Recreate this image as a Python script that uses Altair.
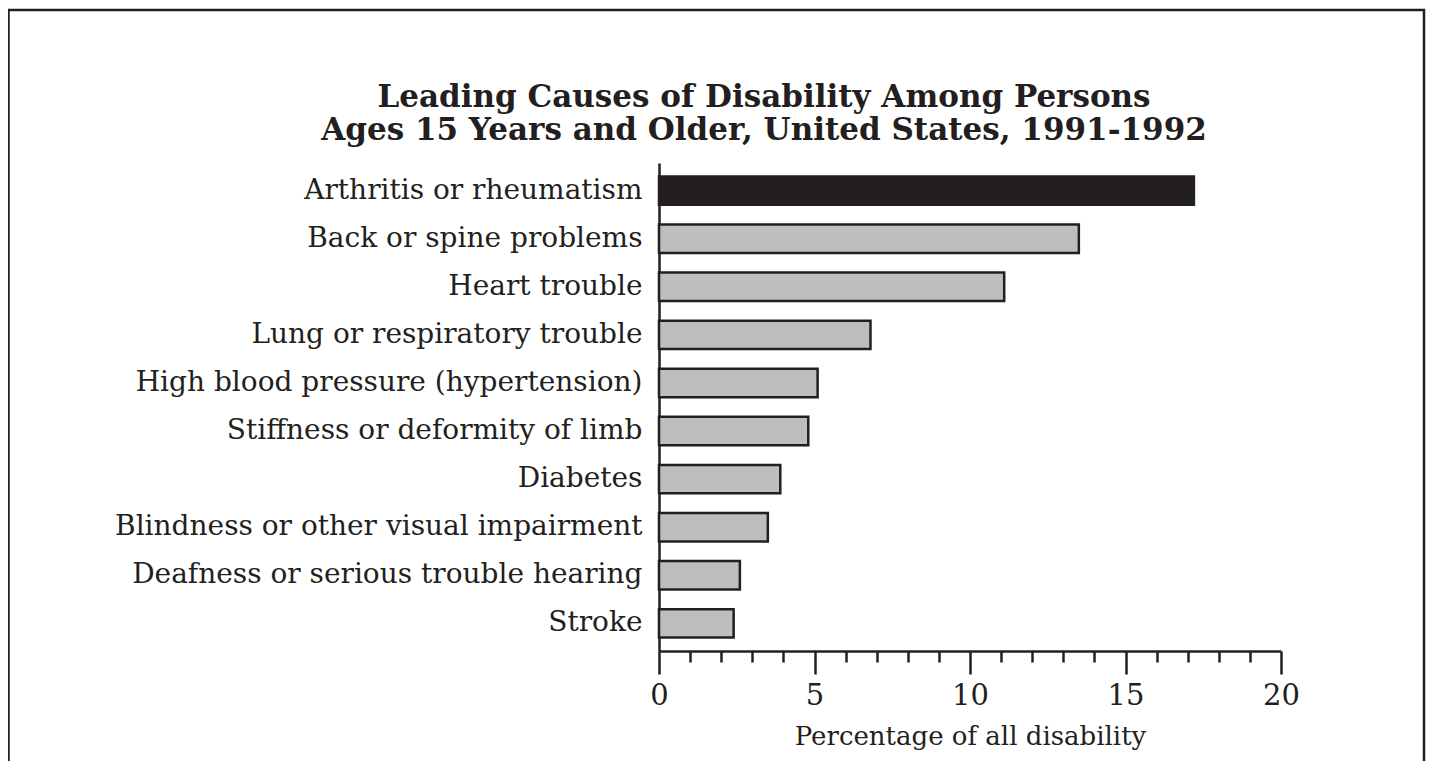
import altair as alt
import pandas as pd

title_lines = [
    "Leading Causes of Disability Among Persons",
    "Ages 15 Years and Older, United States, 1991-1992",
]
causes = [
    "Arthritis or rheumatism",
    "Back or spine problems",
    "Heart trouble",
    "Lung or respiratory trouble",
    "High blood pressure (hypertension)",
    "Stiffness or deformity of limb",
    "Diabetes",
    "Blindness or other visual impairment",
    "Deafness or serious trouble hearing",
    "Stroke",
]
percent = [17.2, 13.5, 11.1, 6.8, 5.1, 4.8, 3.9, 3.5, 2.6, 2.4]
group = ["leading"] + ["other"] * 9
x_ticks = list(range(0, 21))

INK = "#231f20"
GRAY = "#bcbec0"
SERIF = "DejaVu Serif"

df = pd.DataFrame({"cause": causes, "percent": percent, "group": group})

bars = alt.Chart(df).mark_bar(stroke=INK, strokeWidth=2.5).encode(
    y=alt.Y(
        "cause:N",
        sort=causes,
        scale=alt.Scale(paddingInner=0.41, paddingOuter=0.28),
        axis=alt.Axis(
            title=None,
            ticks=False,
            domainColor=INK,
            domainWidth=2.5,
            labelFont=SERIF,
            labelFontSize=28,
            labelColor=INK,
            labelPadding=17,
            labelLimit=800,
        ),
    ),
    x=alt.X(
        "percent:Q",
        scale=alt.Scale(domain=[0, 20], nice=False),
        axis=alt.Axis(
            title="Percentage of all disability",
            values=x_ticks,
            labelExpr="datum.value % 5 === 0 ? datum.label : ''",
            tickSize={"condition": {"test": "datum.value % 5 === 0", "value": 23}, "value": 11},
            tickWidth=2.5,
            tickColor=INK,
            domainColor=INK,
            domainWidth=2.5,
            grid=False,
            labelFont=SERIF,
            labelFontSize=29,
            labelColor=INK,
            labelPadding=7,
            labelFlush=False,
            titleFont=SERIF,
            titleFontSize=26,
            titleFontWeight="normal",
            titleColor=INK,
            titlePadding=13,
        ),
    ),
    color=alt.Color(
        "group:N",
        scale=alt.Scale(domain=["leading", "other"], range=[INK, GRAY]),
        legend=None,
    ),
)

frame = alt.Chart(alt.Data(values=[{"f": 1}])).mark_rect(
    fillOpacity=0, stroke=INK, strokeWidth=2.5
).encode(
    x=alt.value(-650.5),
    x2=alt.value(765),
    y=alt.value(-153),
    y2=alt.value(800),
)

title = alt.Chart(alt.Data(values=[{"f": 1}])).mark_text(
    font=SERIF,
    fontSize=31,
    fontWeight="bold",
    color=INK,
    align="center",
    baseline="alphabetic",
    lineHeight=33,
).encode(
    x=alt.value(105),
    y=alt.value(-56),
    text=alt.value(title_lines),
)

chart = (
    alt.layer(frame, title, bars)
    .properties(
        width=622,
        height=488,
        autosize=alt.AutoSizeParams(type="none"),
        padding={"left": 651, "top": 155, "right": 145, "bottom": 110},
    )
    .configure_view(strokeOpacity=0, strokeWidth=0)
)

chart.save("out.html", embed_options={"renderer": "svg", "actions": False})
